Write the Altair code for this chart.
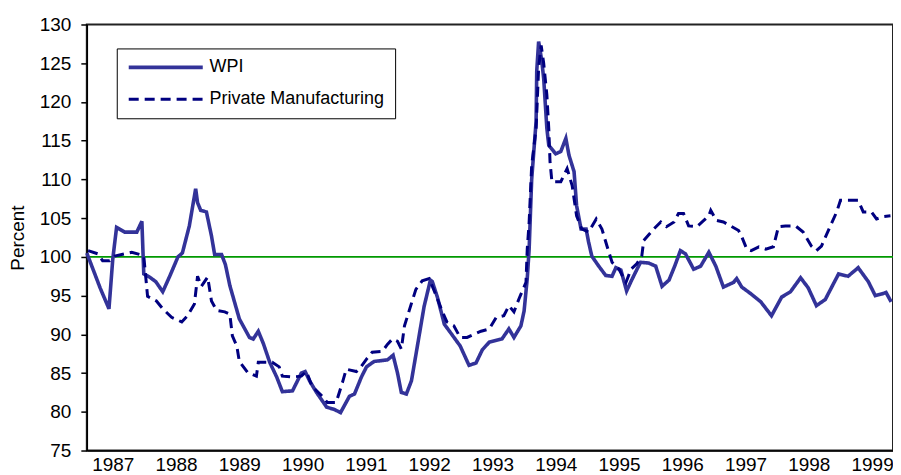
import altair as alt
import pandas as pd

# WPI (solid) — decimal year, percent
wpi_t = [1986.59, 1986.80, 1986.94, 1987.00, 1987.06, 1987.19, 1987.38, 1987.46, 1987.49, 1987.58,
         1987.68, 1987.79, 1987.90, 1988.03, 1988.10, 1988.21, 1988.31, 1988.34, 1988.39, 1988.48,
         1988.56, 1988.61, 1988.72, 1988.78, 1988.85, 1989.00, 1989.16, 1989.22, 1989.30, 1989.38,
         1989.48, 1989.59, 1989.68, 1989.84, 1989.98, 1990.04, 1990.11, 1990.22, 1990.38, 1990.50,
         1990.60, 1990.74, 1990.82, 1990.93, 1991.01, 1991.13, 1991.34, 1991.43, 1991.50, 1991.56,
         1991.64, 1991.72, 1991.81, 1991.92, 1992.02, 1992.05, 1992.13, 1992.24, 1992.33, 1992.49,
         1992.63, 1992.74, 1992.84, 1992.95, 1993.15, 1993.26, 1993.34, 1993.45, 1993.50, 1993.55,
         1993.58, 1993.62, 1993.69, 1993.70, 1993.73, 1993.78, 1993.81, 1993.86, 1993.89, 1994.00,
         1994.08, 1994.16, 1994.21, 1994.29, 1994.33, 1994.40, 1994.48, 1994.52, 1994.57, 1994.68,
         1994.79, 1994.89, 1994.95, 1995.03, 1995.12, 1995.20, 1995.26, 1995.34, 1995.47, 1995.58,
         1995.68, 1995.79, 1995.88, 1995.97, 1996.05, 1996.18, 1996.29, 1996.42, 1996.53, 1996.65,
         1996.81, 1996.86, 1996.94, 1997.09, 1997.24, 1997.41, 1997.57, 1997.71, 1997.87, 1997.99,
         1998.12, 1998.26, 1998.47, 1998.62, 1998.78, 1998.94, 1999.05, 1999.15, 1999.22, 1999.30]
wpi_v = [100.5, 96.0, 93.3, 99.7, 103.8, 103.2, 103.2, 104.6, 97.8, 97.4,
         96.8, 95.5, 97.5, 100.0, 100.5, 104.0, 108.8, 107.0, 106.0, 105.8,
         102.7, 100.3, 100.3, 99.0, 96.3, 92.0, 89.6, 89.4, 90.4, 88.8,
         86.4, 84.5, 82.6, 82.7, 85.0, 85.2, 84.0, 82.5, 80.6, 80.3,
         79.9, 82.0, 82.3, 84.5, 85.8, 86.5, 86.7, 87.3, 85.0, 82.5,
         82.3, 84.0, 88.3, 93.6, 97.0, 96.8, 94.8, 91.3, 90.3, 88.5,
         86.0, 86.3, 88.0, 89.0, 89.4, 90.7, 89.6, 91.1, 93.0, 97.2,
         101.0, 110.0, 117.5, 124.0, 127.8, 125.3, 123.0, 116.6, 114.4, 113.3,
         113.6, 115.3, 113.1, 111.0, 106.6, 103.6, 103.6, 101.9, 100.1, 98.8,
         97.6, 97.5, 98.6, 98.3, 95.6, 97.0, 98.0, 99.3, 99.2, 98.8,
         96.2, 97.0, 98.8, 100.8, 100.4, 98.4, 98.8, 100.6, 98.8, 96.1,
         96.7, 97.2, 96.1, 95.2, 94.2, 92.4, 94.8, 95.5, 97.3, 96.0,
         93.7, 94.5, 97.8, 97.5, 98.6, 96.8, 95.0, 95.2, 95.4, 94.2]

# Private Manufacturing (dashed)
pm_t = [1986.61, 1986.76, 1986.84, 1986.95, 1987.03, 1987.19, 1987.30, 1987.43, 1987.49, 1987.55,
        1987.69, 1987.79, 1987.93, 1988.09, 1988.18, 1988.29, 1988.34, 1988.40, 1988.50, 1988.56,
        1988.64, 1988.77, 1988.85, 1988.89, 1988.96, 1989.00, 1989.13, 1989.27, 1989.30, 1989.52,
        1989.63, 1989.68, 1989.84, 1989.98, 1990.06, 1990.15, 1990.31, 1990.39, 1990.53, 1990.58,
        1990.63, 1990.69, 1990.85, 1990.93, 1991.01, 1991.10, 1991.26, 1991.34, 1991.42, 1991.50,
        1991.56, 1991.61, 1991.72, 1991.79, 1991.89, 1992.00, 1992.11, 1992.21, 1992.28, 1992.39,
        1992.49, 1992.60, 1992.71, 1992.82, 1992.95, 1993.06, 1993.18, 1993.26, 1993.34, 1993.42,
        1993.53, 1993.55, 1993.58, 1993.62, 1993.69, 1993.73, 1993.77, 1993.81, 1993.86, 1993.89,
        1993.91, 1993.94, 1994.08, 1994.18, 1994.26, 1994.33, 1994.41, 1994.52, 1994.64, 1994.73,
        1994.81, 1994.89, 1995.00, 1995.11, 1995.19, 1995.28, 1995.36, 1995.39, 1995.55, 1995.66,
        1995.75, 1995.87, 1995.94, 1996.02, 1996.10, 1996.23, 1996.34, 1996.42, 1996.45, 1996.54,
        1996.65, 1996.76, 1996.89, 1996.94, 1997.02, 1997.09, 1997.21, 1997.32, 1997.44, 1997.52,
        1997.63, 1997.79, 1997.91, 1998.04, 1998.12, 1998.20, 1998.34, 1998.44, 1998.50, 1998.78,
        1998.86, 1998.99, 1999.07, 1999.18, 1999.29]
pm_v = [100.8, 100.4, 99.5, 99.5, 100.1, 100.4, 100.6, 100.3, 100.1, 94.9,
        94.3, 93.3, 92.2, 91.6, 92.4, 93.9, 97.5, 96.2, 97.4, 94.3,
        93.1, 92.9, 92.6, 89.8, 88.5, 86.5, 85.1, 84.6, 86.4, 86.4,
        85.8, 84.6, 84.5, 84.6, 85.2, 83.3, 82.0, 81.2, 81.2, 82.5,
        83.8, 85.5, 85.2, 85.9, 86.8, 87.7, 87.8, 88.7, 89.4, 89.1,
        88.1, 91.1, 94.0, 95.8, 96.9, 97.2, 95.0, 92.9, 91.6, 91.1,
        89.6, 89.6, 90.0, 90.4, 90.7, 92.2, 92.4, 93.7, 92.9, 94.6,
        96.7, 101.0, 104.5, 111.8, 116.6, 124.4, 127.3, 125.0, 120.9, 116.6,
        112.3, 109.7, 109.7, 111.4, 109.2, 105.3, 103.6, 103.2, 104.9, 103.6,
        101.4, 99.3, 98.4, 96.7, 98.4, 99.1, 100.1, 102.1, 103.6, 104.5,
        103.9, 104.5, 105.6, 105.6, 104.0, 103.9, 104.7, 105.3, 106.0, 104.7,
        104.5, 104.0, 103.4, 102.6, 101.0, 100.8, 101.3, 101.0, 101.3, 103.9,
        104.0, 104.0, 103.2, 101.4, 100.8, 101.4, 104.0, 105.8, 107.3, 107.3,
        105.8, 105.8, 104.9, 105.2, 105.3]

series_names = ["WPI", "Private Manufacturing"]
series_colors = ["#333399", "#000080"]
year_ticks = list(range(1987, 2000))
y_ticks = list(range(75, 131, 5))
baseline = 100

df = pd.concat([
    pd.DataFrame({"t": wpi_t, "v": wpi_v, "series": series_names[0], "k": 0}),
    pd.DataFrame({"t": pm_t, "v": pm_v, "series": series_names[1], "k": 1}),
])

FONT = "Liberation Sans"

x_scale = alt.Scale(domain=[1986.59, 1999.33], nice=False, zero=False)
y_scale = alt.Scale(domain=[75, 130], nice=False, zero=False)
y_axis = alt.Axis(values=y_ticks, title="Percent", grid=False, tickSize=6,
                  tickColor="black", tickWidth=1.5, labelPadding=10,
                  labelFontSize=19, labelFont=FONT, labelColor="black",
                  labelOverlap=False, labelFlush=False,
                  domainColor="black", domainWidth=1.5, titleFont=FONT,
                  titleFontSize=19, titleFontWeight="normal", titleColor="black",
                  titlePadding=12)
x_axis = alt.Axis(values=year_ticks, format="d", title=None, grid=False,
                  ticks=False, labelPadding=5, labelFontSize=19, labelFont=FONT,
                  labelColor="black", domainColor="black", domainWidth=1.5,
                  labelFlush=False, labelOverlap=False)

lines = alt.Chart(df).mark_line().encode(
    x=alt.X("t:Q", scale=x_scale, axis=x_axis),
    y=alt.Y("v:Q", scale=y_scale, axis=y_axis),
    color=alt.Color("series:N", scale=alt.Scale(domain=series_names, range=series_colors),
                    legend=alt.Legend(title=None)),
    strokeDash=alt.StrokeDash("series:N",
                              scale=alt.Scale(domain=series_names, range=[[1, 0], [10, 6]]),
                              legend=alt.Legend(title=None)),
    strokeWidth=alt.StrokeWidth("series:N",
                                scale=alt.Scale(domain=series_names, range=[3.6, 3]),
                                legend=None),
    order=alt.Order("k:Q"),
    detail="series:N",
)

rule = alt.Chart(pd.DataFrame({"v": [baseline]})).mark_rule(
    color="#009900", strokeWidth=2).encode(y=alt.Y("v:Q", scale=y_scale, axis=y_axis))

chart = alt.layer(rule, lines).properties(
    width=808, height=427,
    autosize=alt.AutoSizeParams(type="none"),
    padding={"left": 79, "top": 16, "right": 0, "bottom": 24},
).configure_view(
    stroke="#222222", strokeWidth=2
).configure_legend(
    orient="none", legendX=30, legendY=24,
    strokeColor="black", padding=10,
    labelFont=FONT, labelFontSize=18, labelColor="black", labelLimit=400,
    symbolType="M-1,0H9.6", symbolSize=196, symbolStrokeWidth=3,
    labelOffset=65, rowPadding=14, fillColor="white",
)

chart.save("out.html", embed_options={"renderer": "svg", "actions": False})
